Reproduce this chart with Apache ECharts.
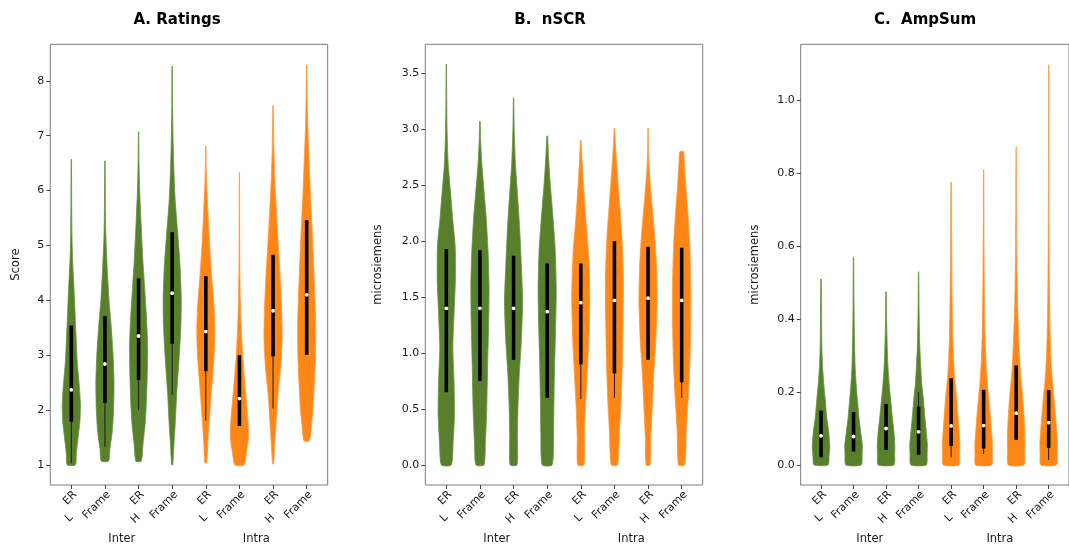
<!DOCTYPE html>
<html><head><meta charset="utf-8">
<script src="https://cdn.jsdelivr.net/npm/echarts@6/dist/echarts.min.js"></script>
<style>html,body{margin:0;padding:0;background:#fff}#c{width:1069px;height:547px}</style>
</head><body><div id="c"></div>
<script>
// ---------- shared categories ----------
const positions = [0, 1, 2, 3, 4, 5, 6, 7];
const conditionLabels = ['ER', 'Frame', 'ER', 'Frame', 'ER', 'Frame', 'ER', 'Frame'];
const levelLabels = ['L', '', 'H', '', 'L', '', 'H', ''];
const groupLabels = ['Inter', 'Intra'];
const groupPositions = [1.5, 5.5];
const groupOfViolin = [0, 0, 0, 0, 1, 1, 1, 1];
const panelTitles = ['A. Ratings', 'B.  nSCR', 'C.  AmpSum'];
const yNames = ['Score', 'microsiemens', 'microsiemens'];

// ---------- A. Ratings ----------
const ratingsTicks = [1, 2, 3, 4, 5, 6, 7, 8];
const ratingsProfiles = [
  [[1.0,0.45],[1.2,0.55],[1.5,0.75],[1.8,0.95],[2.1,1.0],[2.4,0.9],[2.9,0.65],[3.5,0.48],[4.1,0.33],[4.7,0.15],[5.2,0.07],[5.8,0.04],[6.57,0.02]],
  [[1.07,0.4],[1.3,0.55],[1.6,0.8],[2.0,0.95],[2.5,1.0],[3.0,0.9],[3.5,0.7],[4.0,0.45],[4.6,0.25],[5.2,0.1],[5.8,0.05],[6.54,0.02]],
  [[1.07,0.3],[1.4,0.5],[1.7,0.7],[2.1,0.85],[2.6,0.95],[3.1,1.0],[3.6,0.9],[4.2,0.68],[4.8,0.45],[5.4,0.28],[6.0,0.12],[6.5,0.05],[7.07,0.02]],
  [[1.0,0.06],[1.4,0.2],[1.8,0.35],[2.3,0.5],[2.9,0.75],[3.5,0.95],[4.0,1.0],[4.6,0.88],[5.2,0.62],[5.8,0.34],[6.4,0.18],[7.0,0.09],[7.6,0.04],[8.27,0.02]],
  [[1.04,0.1],[1.4,0.22],[1.8,0.38],[2.3,0.6],[2.9,0.88],[3.4,1.0],[3.9,0.9],[4.5,0.62],[5.0,0.42],[5.5,0.27],[6.0,0.13],[6.4,0.05],[6.81,0.02]],
  [[1.0,0.5],[1.2,0.75],[1.5,1.0],[1.8,0.95],[2.2,0.75],[2.6,0.55],[3.0,0.35],[3.5,0.2],[4.0,0.1],[4.6,0.05],[5.3,0.03],[6.33,0.015]],
  [[1.02,0.06],[1.4,0.2],[1.8,0.35],[2.3,0.55],[2.8,0.85],[3.3,1.0],[3.8,0.95],[4.4,0.8],[5.0,0.58],[5.6,0.38],[6.2,0.2],[6.8,0.09],[7.55,0.02]],
  [[1.44,0.3],[1.7,0.5],[2.0,0.68],[2.5,0.85],[3.0,0.97],[3.5,1.0],[4.0,0.92],[4.6,0.78],[5.3,0.6],[5.9,0.42],[6.5,0.28],[7.1,0.14],[7.7,0.06],[8.29,0.02]]
];
const ratingsQ1 = [1.79, 2.13, 2.55, 3.21, 2.71, 1.71, 2.98, 3.01];
const ratingsMedian = [2.37, 2.84, 3.35, 4.13, 3.43, 2.21, 3.81, 4.10];
const ratingsQ3 = [3.54, 3.71, 4.40, 5.24, 4.44, 3.00, 4.83, 5.46];
const ratingsWhiskerLow = [1.03, 1.33, 2.00, 2.28, 1.81, 1.71, 2.03, 3.01];
const ratingsWhiskerHigh = [3.54, 3.71, 4.40, 5.24, 4.44, 3.00, 4.83, 5.46];

// ---------- B. nSCR ----------
const nscrTicks = [0, 0.5, 1.0, 1.5, 2.0, 2.5, 3.0, 3.5];
const nscrProfiles = [
  [[0,0.55],[0.2,0.75],[0.45,0.9],[0.75,0.85],[1.05,0.72],[1.35,0.85],[1.65,1.0],[1.95,0.98],[2.2,0.7],[2.45,0.45],[2.7,0.2],[3.0,0.08],[3.3,0.04],[3.58,0.02]],
  [[0,0.45],[0.2,0.6],[0.5,0.75],[0.9,0.85],[1.3,0.97],[1.6,1.0],[1.9,0.9],[2.2,0.7],[2.45,0.45],[2.7,0.2],[2.9,0.08],[3.07,0.03]],
  [[0,0.38],[0.25,0.42],[0.5,0.48],[0.8,0.62],[1.1,0.85],[1.45,1.0],[1.8,0.85],[2.1,0.68],[2.4,0.45],[2.7,0.2],[3.0,0.07],[3.28,0.02]],
  [[0,0.55],[0.3,0.7],[0.6,0.75],[0.9,0.82],[1.2,0.92],[1.55,1.0],[1.9,0.9],[2.2,0.65],[2.5,0.35],[2.75,0.15],[2.94,0.04]],
  [[0,0.35],[0.25,0.4],[0.5,0.5],[0.8,0.7],[1.1,0.88],[1.5,1.0],[1.9,0.85],[2.2,0.55],[2.5,0.3],[2.7,0.15],[2.9,0.03]],
  [[0,0.35],[0.3,0.55],[0.6,0.75],[0.95,0.88],[1.3,0.96],[1.65,1.0],[2.0,0.85],[2.3,0.6],[2.6,0.32],[2.85,0.12],[3.01,0.02]],
  [[0,0.22],[0.25,0.3],[0.5,0.45],[0.8,0.62],[1.1,0.85],[1.45,1.0],[1.8,0.92],[2.1,0.68],[2.4,0.35],[2.65,0.12],[2.85,0.04],[3.01,0.015]],
  [[0,0.35],[0.3,0.5],[0.6,0.72],[0.9,0.9],[1.25,1.0],[1.6,1.0],[1.95,0.9],[2.25,0.68],[2.5,0.45],[2.7,0.3],[2.8,0.2]]
];
const nscrQ1 = [0.65, 0.75, 0.94, 0.60, 0.90, 0.82, 0.94, 0.74];
const nscrMedian = [1.40, 1.40, 1.40, 1.37, 1.45, 1.47, 1.49, 1.47];
const nscrQ3 = [1.93, 1.92, 1.87, 1.80, 1.80, 2.00, 1.95, 1.94];
const nscrWhiskerLow = [0.65, 0.75, 0.94, 0.60, 0.59, 0.60, 0.94, 0.60];
const nscrWhiskerHigh = [1.93, 1.92, 1.87, 1.80, 1.80, 2.00, 1.95, 1.94];

// ---------- C. AmpSum ----------
const ampTicks = [0, 0.2, 0.4, 0.6, 0.8, 1.0];
const ampProfiles = [
  [[0,0.8],[0.025,0.92],[0.05,1.0],[0.09,0.88],[0.13,0.65],[0.18,0.48],[0.22,0.32],[0.27,0.18],[0.32,0.1],[0.41,0.06],[0.51,0.03]],
  [[0,0.88],[0.03,0.97],[0.055,1.0],[0.09,0.82],[0.13,0.62],[0.18,0.44],[0.22,0.3],[0.27,0.18],[0.35,0.1],[0.45,0.05],[0.57,0.02]],
  [[0,0.9],[0.03,0.98],[0.055,1.0],[0.09,0.9],[0.13,0.72],[0.18,0.52],[0.22,0.36],[0.27,0.22],[0.32,0.14],[0.4,0.06],[0.475,0.03]],
  [[0,0.88],[0.03,0.97],[0.055,1.0],[0.09,0.88],[0.13,0.72],[0.18,0.55],[0.22,0.37],[0.27,0.25],[0.33,0.13],[0.42,0.06],[0.53,0.02]],
  [[0,0.9],[0.03,0.97],[0.055,1.0],[0.09,0.92],[0.13,0.8],[0.18,0.65],[0.22,0.48],[0.27,0.32],[0.36,0.18],[0.5,0.1],[0.65,0.05],[0.776,0.02]],
  [[0,0.92],[0.03,0.98],[0.06,1.0],[0.09,0.9],[0.13,0.78],[0.18,0.6],[0.22,0.44],[0.27,0.3],[0.36,0.16],[0.5,0.08],[0.65,0.04],[0.81,0.02]],
  [[0,0.9],[0.04,0.98],[0.07,1.0],[0.11,0.95],[0.15,0.85],[0.2,0.7],[0.25,0.5],[0.3,0.38],[0.36,0.28],[0.45,0.15],[0.6,0.07],[0.75,0.03],[0.872,0.015]],
  [[0,0.9],[0.03,0.98],[0.06,1.0],[0.1,0.9],[0.14,0.76],[0.18,0.62],[0.22,0.46],[0.27,0.3],[0.36,0.17],[0.5,0.08],[0.7,0.04],[0.9,0.02],[1.097,0.01]]
];
const ampQ1 = [0.021, 0.037, 0.041, 0.028, 0.052, 0.045, 0.069, 0.047];
const ampMedian = [0.080, 0.078, 0.100, 0.091, 0.107, 0.108, 0.142, 0.116];
const ampQ3 = [0.149, 0.145, 0.167, 0.160, 0.238, 0.206, 0.273, 0.205];
const ampWhiskerLow = [0.021, 0.037, 0.041, 0.028, 0.021, 0.030, 0.069, 0.014];
const ampWhiskerHigh = [0.149, 0.145, 0.167, 0.200, 0.238, 0.206, 0.273, 0.205];

// ---------- styling ----------
const groupColors = ['#587f2b', '#fd8617'];
const edgeColors = ['#6a9340', '#ff9a40'];
const HALF = 0.27;
const FONT = 'DejaVu Sans';
const TEXT = '#1a1a1a';

const panels = [
  {profiles: ratingsProfiles, q1: ratingsQ1, med: ratingsMedian, q3: ratingsQ3, wlo: ratingsWhiskerLow, whi: ratingsWhiskerHigh,
   ticks: ratingsTicks, min: 0.635, max: 8.665, fmt: v => String(v), left: 50.3, titleX: 177, nameGap: 28},
  {profiles: nscrProfiles, q1: nscrQ1, med: nscrMedian, q3: nscrQ3, wlo: nscrWhiskerLow, whi: nscrWhiskerHigh,
   ticks: nscrTicks, min: -0.179, max: 3.759, fmt: v => v.toFixed(1), left: 425.3, titleX: 550, nameGap: 41},
  {profiles: ampProfiles, q1: ampQ1, med: ampMedian, q3: ampQ3, wlo: ampWhiskerLow, whi: ampWhiskerHigh,
   ticks: ampTicks, min: -0.055, max: 1.154, fmt: v => v.toFixed(1), left: 800.7, titleX: 925, nameGap: 40}
];

function makeRender(p) {
  return function (params, api) {
    const i = params.dataIndex;
    const pos = api.value(0);
    const prof = p.profiles[i];
    const right = prof.map(d => api.coord([pos + d[1] * HALF, d[0]]));
    const left = prof.slice().reverse().map(d => api.coord([pos - d[1] * HALF, d[0]]));
    const g = groupOfViolin[i];
    const wl = api.coord([pos, p.wlo[i]]), wh = api.coord([pos, p.whi[i]]);
    const b1 = api.coord([pos, p.q1[i]]), b3 = api.coord([pos, p.q3[i]]);
    const m = api.coord([pos, p.med[i]]);
    return {
      type: 'group',
      children: [
        {type: 'polygon', shape: {points: right.concat(left), smooth: 0.2},
         style: {fill: groupColors[g], stroke: edgeColors[g], lineWidth: 0.8}},
        {type: 'line', shape: {x1: wl[0], y1: wl[1], x2: wh[0], y2: wh[1]},
         style: {stroke: '#1b1b1b', lineWidth: 1}},
        {type: 'line', shape: {x1: b1[0], y1: b1[1], x2: b3[0], y2: b3[1]},
         style: {stroke: '#000', lineWidth: 3.6, lineCap: 'butt'}},
        {type: 'circle', shape: {cx: m[0], cy: m[1], r: 1.9}, style: {fill: '#fff'}}
      ]
    };
  };
}

const grids = [], xAxes = [], yAxes = [], series = [], titles = [];
panels.forEach((p, k) => {
  grids.push({left: p.left, top: 44.3, width: 277.4, height: 440.7, show: true,
    borderColor: '#7a7a7a', borderWidth: 1, backgroundColor: 'transparent'});
  titles.push({text: panelTitles[k], left: p.titleX, top: 13, textAlign: 'center', padding: 0,
    textStyle: {fontFamily: FONT, fontSize: 15, fontWeight: 'bold', color: '#000'}});
  const xBase = {type: 'value', gridIndex: k, min: -0.625, max: 7.625, position: 'bottom',
    splitLine: {show: false}};
  // condition labels + ticks
  xAxes.push(Object.assign({}, xBase, {
    axisLine: {show: false, onZero: false},
    axisTick: {show: true, length: 4, customValues: positions, lineStyle: {color: '#444'}},
    axisLabel: {customValues: positions, rotate: 45, verticalAlign: 'top', margin: 4,
      fontFamily: FONT, fontSize: 11, color: TEXT,
      formatter: v => conditionLabels[Math.round(v)]}
  }));
  // level labels
  xAxes.push(Object.assign({}, xBase, {
    axisLine: {show: false, onZero: false}, axisTick: {show: false},
    axisLabel: {customValues: positions.filter((_, i) => levelLabels[i] !== ''), rotate: 45, margin: 31,
      fontFamily: FONT, fontSize: 11, color: TEXT,
      formatter: v => levelLabels[Math.round(v)]}
  }));
  // group labels
  xAxes.push(Object.assign({}, xBase, {
    axisLine: {show: false, onZero: false}, axisTick: {show: false},
    axisLabel: {customValues: groupPositions, margin: 48,
      fontFamily: FONT, fontSize: 11.5, color: TEXT,
      formatter: v => groupLabels[v < 4 ? 0 : 1]}
  }));
  yAxes.push({type: 'value', gridIndex: k, min: p.min, max: p.max, position: 'left',
    splitLine: {show: false},
    axisLine: {show: false, onZero: false},
    axisTick: {show: true, length: 4, customValues: p.ticks, lineStyle: {color: '#444'}},
    axisLabel: {customValues: p.ticks, margin: 6, fontFamily: FONT, fontSize: 11, color: TEXT,
      formatter: v => p.fmt(v)},
    name: yNames[k], nameLocation: 'middle', nameGap: p.nameGap,
    nameTextStyle: {fontFamily: FONT, fontSize: 11.5, color: TEXT}
  });
  series.push({
    type: 'custom', xAxisIndex: k * 3, yAxisIndex: k,
    data: positions.map((x, i) => [x, p.med[i]]),
    encode: {x: 0, y: 1},
    renderItem: makeRender(p),
    clip: false, silent: true
  });
});

const chart = echarts.init(document.getElementById('c'), null, {renderer: 'canvas'});
chart.setOption({
  animation: false,
  backgroundColor: '#fff',
  title: titles,
  grid: grids,
  xAxis: xAxes,
  yAxis: yAxes,
  series: series
});
</script>
</body></html>
